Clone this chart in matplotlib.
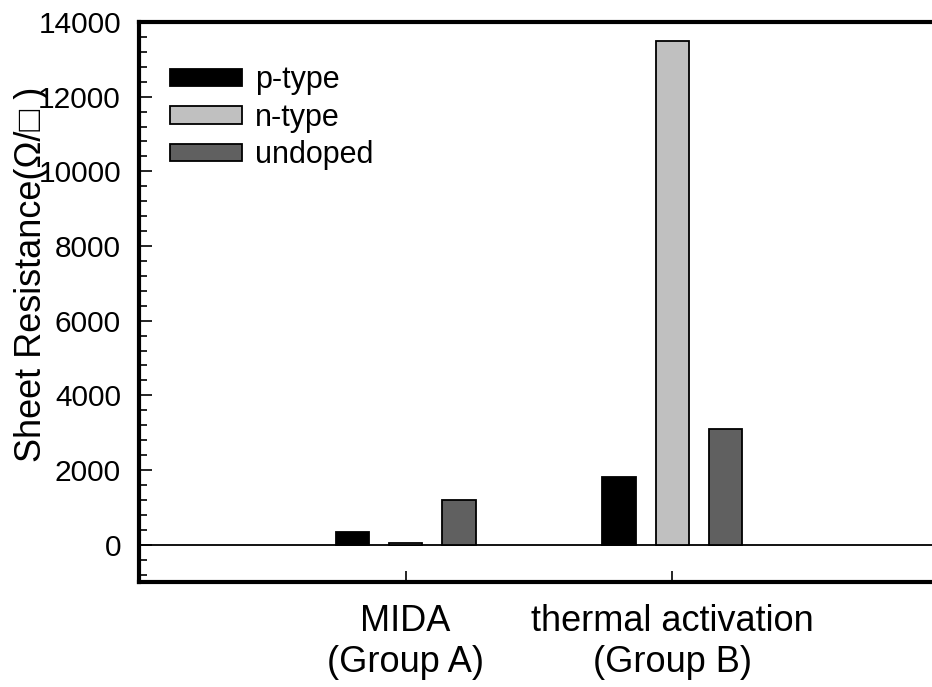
import numpy as np
import matplotlib
matplotlib.use('Agg')
from matplotlib import pyplot as plt
from matplotlib.ticker import MultipleLocator

plt.rcParams['font.family'] = ['Liberation Sans', 'DejaVu Sans']

groups = ['MIDA\n(Group A)', 'thermal activation\n(Group B)']
series = ['p-type', 'n-type', 'undoped']
p_type = [350, 1800]
n_type = [50, 13500]
undoped = [1200, 3100]
colors = ['#000000', '#c0c0c0', '#606060']

fig = plt.figure(figsize=(9.32, 6.87), dpi=100)
ax = fig.add_axes([139 / 932, 105 / 687, 800 / 932, 560 / 687])

# three bars per group, side by side
x = np.arange(1, len(groups) + 1)
offsets = [-0.2, 0.0, 0.2]
for vals, off, col, name in zip([p_type, n_type, undoped], offsets, colors, series):
    ax.bar(x + off, vals, width=0.125, color=col, edgecolor='black',
           linewidth=1.3, label=name, zorder=3)

ax.axhline(0, color='black', linewidth=1.3, zorder=2)

ax.set_xlim(0, 3)
ax.set_ylim(-1000, 14000)
ax.set_xticks(x)
ax.set_xticklabels(groups, fontsize=26)
ax.yaxis.set_major_locator(MultipleLocator(2000))
ax.yaxis.set_minor_locator(MultipleLocator(400))
ax.tick_params(axis='y', which='major', direction='in', length=9, width=1.2,
               labelsize=21.5, pad=13)
ax.tick_params(axis='y', which='minor', direction='in', length=6, width=1.2)
ax.tick_params(axis='x', which='major', direction='in', length=8, width=1.2,
               pad=16)

for side in ['left', 'top', 'bottom']:
    ax.spines[side].set_linewidth(3)
ax.spines['right'].set_visible(False)

ax.set_ylabel('Sheet Resistance(\u03a9/\u25a1 )', fontsize=26)
ax.yaxis.set_label_coords(-0.113, 0.55)

ax.legend(loc='upper left', bbox_to_anchor=(0.039, 0.923), frameon=False,
          fontsize=22, handlelength=2.35, handleheight=0.5,
          handletextpad=0.42, labelspacing=0.25, borderpad=0,
          borderaxespad=0)

fig.savefig('out.png', dpi=100)
